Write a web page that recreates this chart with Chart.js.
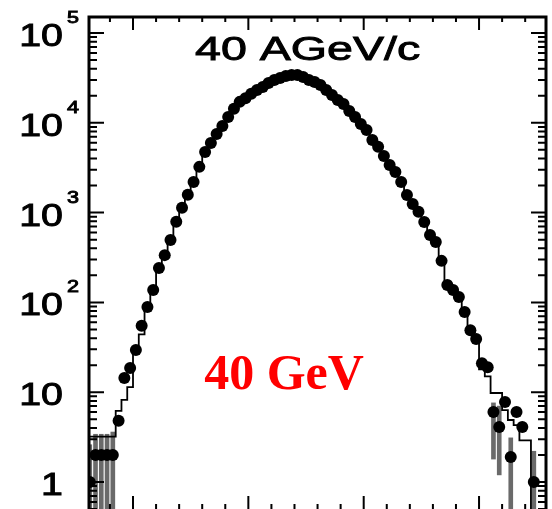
<!DOCTYPE html>
<html>
<head>
<meta charset="utf-8">
<script src="https://cdn.jsdelivr.net/npm/chart.js@4/dist/chart.umd.min.js"></script>
<style>
  html, body { margin: 0; padding: 0; background: #fff; }
  #wrap { width: 552px; height: 509px; overflow: hidden; position: relative; background: #fff; }
  canvas { display: block; }
</style>
</head>
<body>
<div id="wrap"><canvas id="c" width="552" height="530"></canvas></div>
<script>
// ---- data ----
const binCenters = [12.5,13.5,14.5,15.5,16.5,17.5,18.5,19.5,20.5,21.5,22.5,23.5,24.5,25.5,26.5,27.5,28.5,29.5,30.5,31.5,32.5,33.5,34.5,35.5,36.5,37.5,38.5,39.5,40.5,41.5,42.5,43.5,44.5,45.5,46.5,47.5,48.5,49.5,50.5,51.5,52.5,53.5,54.5,55.5,56.5,57.5,58.5,59.5,60.5,61.5,62.5,63.5,64.5,65.5,66.5,67.5,68.5,69.5,70.5,71.5,72.5,73.5,74.5,75.5,76.5,77.5,78.5,79.5,80.5,81.5,82.5,83.5,84.5,85.5,86.5,87.5,88.5,89.5];

const dataCounts = [1,2,2,2,2,4.8,14.4,18.6,29.5,55,
  89,137,241,336,495,790,1130,1580,2190,3230,
  4730,5960,7500,9210,11600,14300,17100,18800,21000,23200,
  25100,27700,30000,31500,33200,34000,34000,32400,30000,28500,
  26400,23200,20400,17900,16200,13500,11600,9700,8320,6440,
  5400,4270,3390,2830,2190,1570,1250,1020,785,563,
  471,290,156,137,115,78,49,39,21,19,
  6.0,4.1,7.8,1.9,6.0,4.1,null,1];

const simCounts = [3.2,3.2,3.2,3.2,3.2,6.2,8.2,11.4,27,44,
  80,130,230,330,480,760,1100,1550,2150,3150,
  4600,5900,7400,9100,11500,14200,17000,18900,21000,23300,
  25300,27800,30200,31800,33300,34100,34000,32500,30200,28400,
  26200,23300,20500,18000,16000,13600,11500,9800,8200,6500,
  5300,4300,3400,2800,2200,1600,1260,1000,800,570,
  470,300,170,140,112,80,52,38,18,15,
  9.8,9.8,6.3,4.9,4.3,2.9,2.9,0.3];

const errLow = [0.3,0.3,0.3,0.5,0.5,null,null,null,null,null,
  null,null,null,null,null,null,null,null,null,null,
  null,null,null,null,null,null,null,null,null,null,
  null,null,null,null,null,null,null,null,null,null,
  null,null,null,null,null,null,null,null,null,null,
  null,null,null,null,null,null,null,null,null,null,
  null,null,null,null,null,null,null,null,null,null,
  1.8,1.2,null,0.3,null,null,null,0.3];
const errHigh = [2.6,3.4,3.4,3.4,3.6,null,null,null,null,null,
  null,null,null,null,null,null,null,null,null,null,
  null,null,null,null,null,null,null,null,null,null,
  null,null,null,null,null,null,null,null,null,null,
  null,null,null,null,null,null,null,null,null,null,
  null,null,null,null,null,null,null,null,null,null,
  null,null,null,null,null,null,null,null,null,null,
  7.6,7.0,null,3.1,null,null,null,2.2];

const xMajorTicks = [20,40,60,80];
const xMinorTicks = [16,24,28,32,36,44,48,52,56,64,68,72,76,84,88];
const yTickValues = [1,10,100,1000,10000,100000];
const yTickBase = ["1","10","10","10","10","10"];
const yTickExp = ["","","2","3","4","5"];
const titleText = "40 AGeV/c";
const noteText = "40 GeV";

// ---- chart ----
const pts = binCenters.map((x,i)=>({x:x, y:dataCounts[i]}));
const simPts = binCenters.map((x,i)=>({x:x, y:simCounts[i]}));
const errPts = [];
binCenters.forEach((x,i)=>{ if (errLow[i]!=null) errPts.push({x:x, y:[errLow[i], errHigh[i]]}); });

function boldText(ctx, txt, x, y) {
  ctx.fillText(txt, x, y);
  ctx.strokeText(txt, x, y);
}

const framePlugin = {
  id: 'frame',
  afterDatasetsDraw(chart) {
    const ctx = chart.ctx, a = chart.chartArea;
    const xs = chart.scales.x, ys = chart.scales.y;
    ctx.save();
    ctx.strokeStyle = '#000';
    ctx.lineWidth = 3;
    ctx.strokeRect(a.left, a.top, a.right - a.left, a.bottom - a.top);
    ctx.lineWidth = 2;
    const drawX = (v, len) => {
      const px = xs.getPixelForValue(v);
      ctx.beginPath();
      ctx.moveTo(px, a.top); ctx.lineTo(px, a.top + len);
      ctx.moveTo(px, a.bottom); ctx.lineTo(px, a.bottom - len - 6);
      ctx.stroke();
    };
    xMajorTicks.forEach(v => drawX(v, 13));
    xMinorTicks.forEach(v => drawX(v, 5));
    const drawY = (v, len) => {
      const py = ys.getPixelForValue(v);
      if (py < a.top || py > a.bottom) return;
      ctx.beginPath();
      ctx.moveTo(a.left, py); ctx.lineTo(a.left + len, py);
      ctx.moveTo(a.right, py); ctx.lineTo(a.right - len, py);
      ctx.stroke();
    };
    for (let d = -1; d <= 5; d++) {
      drawY(Math.pow(10, d), 15);
      for (let m = 2; m <= 9; m++) drawY(m * Math.pow(10, d), 8);
    }
    ctx.restore();
  },
  afterDraw(chart) {
    const ctx = chart.ctx;
    const ys = chart.scales.y;
    ctx.save();
    ctx.fillStyle = '#000';
    ctx.strokeStyle = '#000';
    ctx.lineWidth = 0.9;
    const sx = 1.27;
    yTickValues.forEach((v, i) => {
      const py = ys.getPixelForValue(v);
      ctx.save();
      ctx.translate(63, py + 13);
      ctx.scale(sx, 1);
      ctx.font = '31px "Liberation Sans", Arial, sans-serif';
      ctx.textAlign = 'right';
      ctx.textBaseline = 'alphabetic';
      boldText(ctx, yTickBase[i], 0, 0);
      ctx.restore();
      if (yTickExp[i]) {
        ctx.save();
        ctx.translate(67, py - 10);
        ctx.scale(sx, 1);
        ctx.font = '17px "Liberation Sans", Arial, sans-serif';
        ctx.textAlign = 'left';
        boldText(ctx, yTickExp[i], 0, 0);
        ctx.restore();
      }
    });
    ctx.save();
    ctx.translate(195, 60);
    ctx.scale(1.37, 1);
    ctx.font = '34px "Liberation Sans", Arial, sans-serif';
    ctx.textAlign = 'left';
    boldText(ctx, titleText, 0, 0);
    ctx.restore();
    ctx.font = 'bold 50px "Liberation Serif", "Times New Roman", serif';
    ctx.fillStyle = '#ff0000';
    ctx.textAlign = 'center';
    ctx.fillText(noteText, 284, 389);
    ctx.restore();
  }
};

new Chart(document.getElementById('c'), {
  type: 'line',
  data: {
    datasets: [
      { type: 'line', label: 'data', data: pts, showLine: false, pointRadius: 6,
        pointBackgroundColor: '#000', pointBorderWidth: 0, pointBorderColor: '#000', order: 0 },
      { type: 'line', label: 'sim', data: simPts, stepped: 'middle', borderColor: '#000',
        borderWidth: 1.8, pointRadius: 0, fill: false, order: 1 },
      { type: 'bar', label: 'err', data: errPts, backgroundColor: '#6a6a6a',
        barThickness: 4, order: 2 }
    ]
  },
  options: {
    responsive: false,
    animation: false,
    devicePixelRatio: 1,
    layout: { padding: { left: 89, right: 6, top: 17, bottom: 15 } },
    plugins: { legend: { display: false }, tooltip: { enabled: false } },
    scales: {
      x: { type: 'linear', min: 12.37, max: 91.61, display: false, offset: false, bounds: 'data' },
      y: { type: 'logarithmic', min: 0.429, max: 150700, display: false, bounds: 'data' }
    }
  },
  plugins: [framePlugin]
});
</script>
</body>
</html>
